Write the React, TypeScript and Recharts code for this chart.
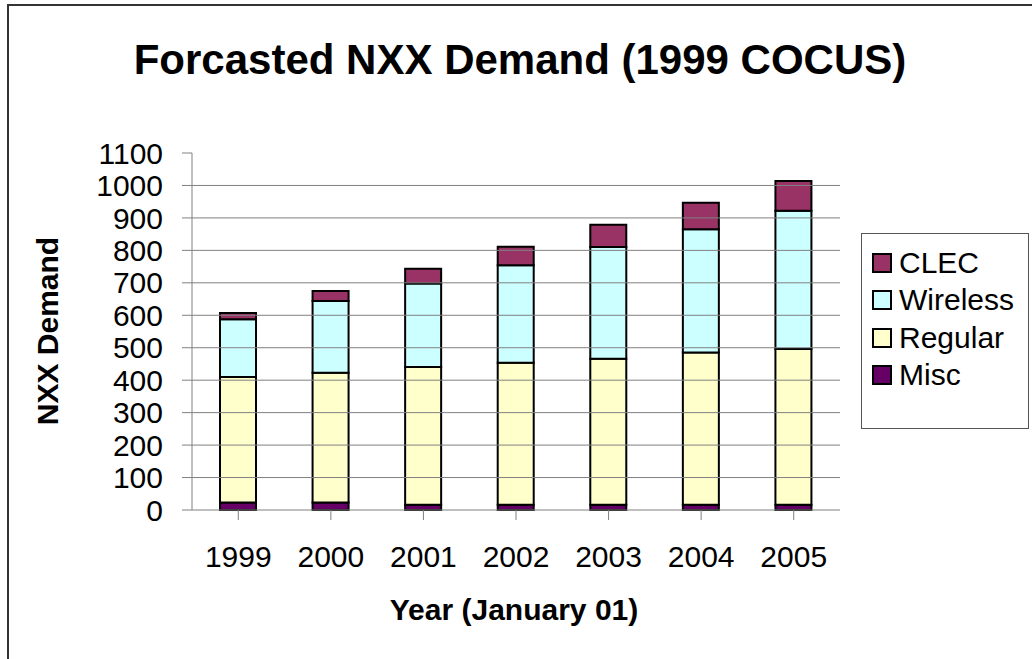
import React from 'react';
import { BarChart, Bar, XAxis, YAxis, ReferenceLine } from 'recharts';

const years = ['1999', '2000', '2001', '2002', '2003', '2004', '2005'];
const misc = [23, 23, 16, 16, 16, 16, 16];
const regular = [387, 400, 425, 438, 450, 469, 480];
const wireless = [178, 221, 257, 300, 344, 380, 426];
const clec = [19, 31, 45, 57, 69, 82, 92];
const yTicks = [0, 100, 200, 300, 400, 500, 600, 700, 800, 900, 1000, 1100];
const gridValues = [100, 200, 300, 400, 500, 600, 700, 800, 900, 1000];

const data = years.map((year, i) => ({
  year,
  Misc: misc[i],
  Regular: regular[i],
  Wireless: wireless[i],
  CLEC: clec[i],
}));

const legendItems = [
  { name: 'CLEC', color: '#993366' },
  { name: 'Wireless', color: '#CCFFFF' },
  { name: 'Regular', color: '#FFFFCC' },
  { name: 'Misc', color: '#660066' },
];

const FONT = 'Arial, "Liberation Sans", sans-serif';

const LegendBox = () => (
  <div
    style={{
      position: 'absolute',
      left: 861,
      top: 233,
      width: 168,
      height: 196,
      border: '1px solid #555',
      background: '#fff',
      boxSizing: 'border-box',
      padding: '10px 0 0 10px',
      fontFamily: FONT,
      fontSize: 30,
    }}
  >
    {legendItems.map((it) => (
      <div key={it.name} style={{ display: 'flex', alignItems: 'center', height: 37.5, whiteSpace: 'nowrap' }}>
        <span
          style={{
            width: 16,
            height: 16,
            background: it.color,
            border: '2px solid #000',
            marginRight: 7,
            display: 'inline-block',
            flex: 'none',
          }}
        />
        <span>{it.name}</span>
      </div>
    ))}
  </div>
);

export default function App() {
  return (
    <div style={{ position: 'absolute', left: 0, top: 0, width: 1032, height: 659, overflow: 'hidden', background: '#fff' }}>
      <div
        style={{
          position: 'absolute',
          left: 7,
          top: 4,
          width: 1100,
          height: 700,
          borderLeft: '2px solid #333',
          borderTop: '2px solid #333',
        }}
      />
      <div
        style={{
          position: 'absolute',
          left: 520,
          top: 60,
          transform: 'translate(-50%, -50%)',
          whiteSpace: 'nowrap',
          fontFamily: FONT,
          fontWeight: 'bold',
          fontSize: 42,
        }}
      >
        Forcasted NXX Demand (1999 COCUS)
      </div>
      <div
        style={{
          position: 'absolute',
          left: 48,
          top: 331,
          transform: 'translate(-50%, -50%) rotate(-90deg)',
          whiteSpace: 'nowrap',
          fontFamily: FONT,
          fontWeight: 'bold',
          fontSize: 30,
        }}
      >
        NXX Demand
      </div>
      <div
        style={{
          position: 'absolute',
          left: 514,
          top: 610,
          transform: 'translate(-50%, -50%)',
          whiteSpace: 'nowrap',
          fontFamily: FONT,
          fontWeight: 'bold',
          fontSize: 30,
        }}
      >
        Year (January 01)
      </div>
      <div style={{ position: 'absolute', left: 0, top: 0 }}>
        <BarChart
          width={1032}
          height={659}
          data={data}
          margin={{ top: 153, right: 192, bottom: 89, left: 92 }}
          style={{ fontFamily: FONT }}
        >
          <XAxis
            dataKey="year"
            height={60}
            stroke="#808080"
            tickSize={10}
            tickMargin={26}
            tick={{ fill: '#000', fontSize: 30 }}
            interval={0}
          />
          <YAxis
            width={100}
            domain={[0, 1100]}
            ticks={yTicks}
            interval={0}
            stroke="#808080"
            tickSize={10}
            tickMargin={19}
            tick={{ fill: '#000', fontSize: 30 }}
          />
          {gridValues.map((v) => (
            <ReferenceLine key={v} y={v} stroke="#808080" strokeWidth={1} />
          ))}
          <Bar dataKey="Misc" stackId="a" fill="#660066" stroke="#000" strokeWidth={2} barSize={36} isAnimationActive={false} />
          <Bar dataKey="Regular" stackId="a" fill="#FFFFCC" stroke="#000" strokeWidth={2} barSize={36} isAnimationActive={false} />
          <Bar dataKey="Wireless" stackId="a" fill="#CCFFFF" stroke="#000" strokeWidth={2} barSize={36} isAnimationActive={false} />
          <Bar dataKey="CLEC" stackId="a" fill="#993366" stroke="#000" strokeWidth={2} barSize={36} isAnimationActive={false} />
        </BarChart>
      </div>
      <LegendBox />
    </div>
  );
}
